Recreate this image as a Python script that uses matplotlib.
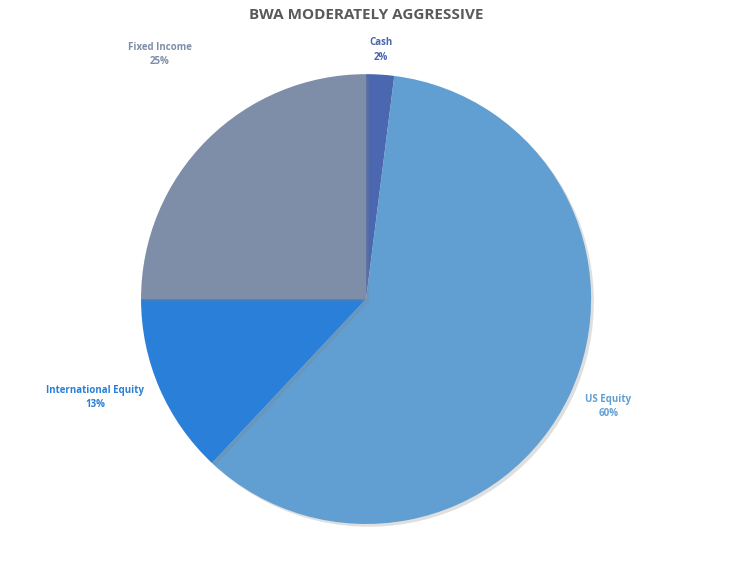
import matplotlib
matplotlib.use("Agg")
import matplotlib.pyplot as plt
import matplotlib.patheffects as pe

title = "BWA MODERATELY AGGRESSIVE"
labels = ["Cash", "US Equity", "International Equity", "Fixed Income"]
values = [2, 60, 13, 25]
colors = ["#4a67b0", "#619fd3", "#2a7fd9", "#7f8ea8"]
label_pos = [(0.067, 1.107), (1.076, -0.476), (-1.204, -0.436), (-0.916, 1.089)]

plt.rcParams['font.family'] = ['Open Sans', 'DejaVu Sans']

fig = plt.figure(figsize=(7.33, 5.63), dpi=100)
ax = fig.add_axes([0.1924, 0.0693, 0.614, 0.799])
wedges, _ = ax.pie(values, colors=colors, startangle=90, counterclock=False,
                   radius=1.0, wedgeprops=dict(linewidth=0))
for w in wedges:
    w.set_path_effects([pe.SimplePatchShadow(offset=(2, -2), alpha=0.25, shadow_rgbFace="#808080"), pe.Normal()])
ax.set_xlim(-1, 1)
ax.set_ylim(-1, 1)
ax.set_aspect('auto')
ax.axis('off')

for lab, v, c, (x, y) in zip(labels, values, colors, label_pos):
    ax.text(x, y, f"{lab}\n{v}%", ha='center', va='center', color=c,
            fontsize=7, fontweight='bold', linespacing=1.4, clip_on=False)

fig.text(0.5, 0.973, title, ha='center', va='center', fontsize=11,
         fontweight='bold', color='#595959')
fig.savefig("out.png", dpi=100)
